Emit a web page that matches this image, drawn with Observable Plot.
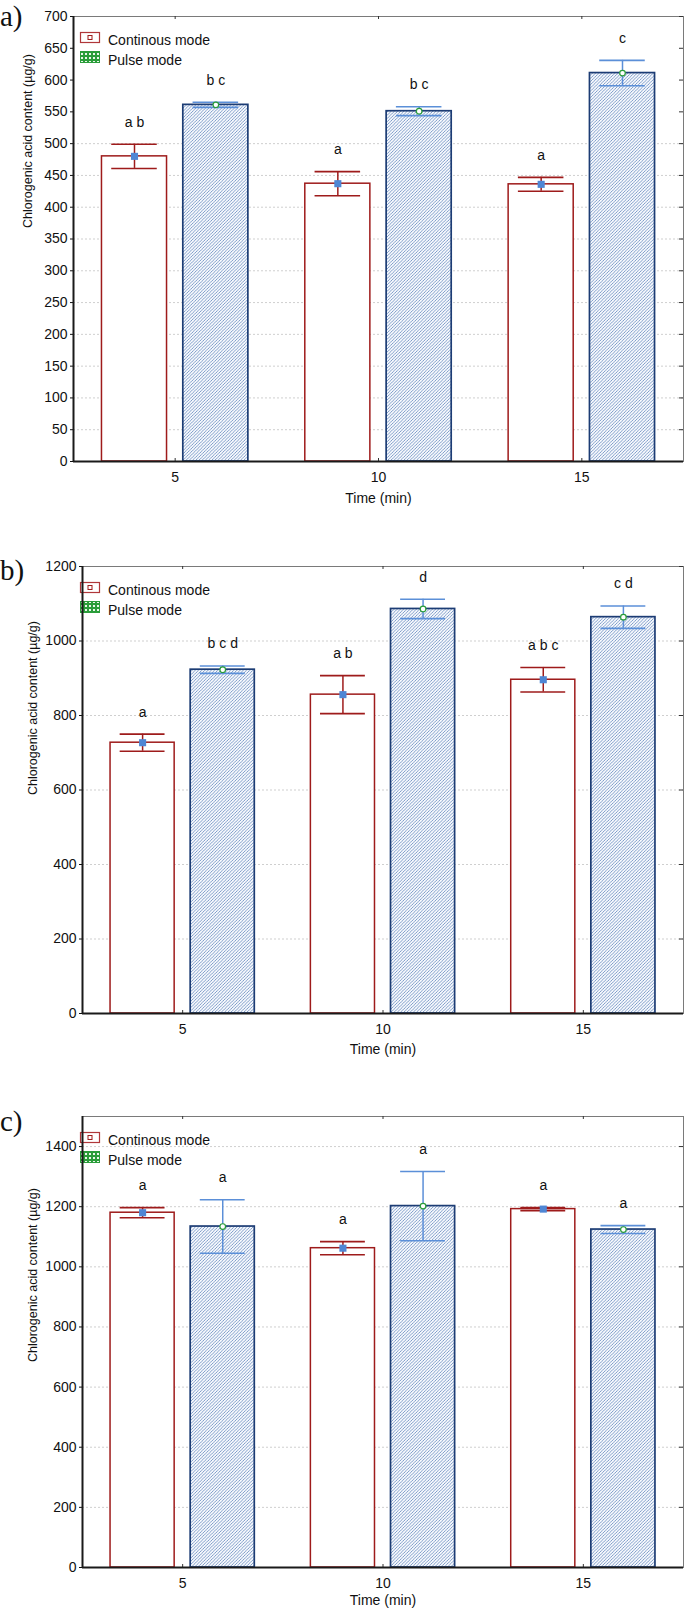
<!DOCTYPE html>
<html>
<head>
<meta charset="utf-8">
<script src="https://cdn.jsdelivr.net/npm/d3@7"></script>
<script src="https://cdn.jsdelivr.net/npm/@observablehq/plot@0.6"></script>
<style>
  body { margin: 0; background: #fff; }
  #chart { position: relative; width: 685px; height: 1613px; background: #fff; }
  .panel { position: absolute; left: 0; }
  .panel svg { display: block; overflow: visible; }
</style>
</head>
<body>
<div id="chart"></div>
<script>
// ---------- data ----------
const times = [5, 10, 15];
const seriesNames = ["Continous mode", "Pulse mode"];
const yLabel = "Chlorogenic acid content (µg/g)";
const xLabel = "Time (min)";
const panelTags = ["a)", "b)", "c)"];

// panel a
const aContMean = [480, 437, 436];
const aContSD = [19, 19, 11];
const aPulseMean = [561, 551, 611];
const aPulseSD = [4, 7, 20];
const aContLetters = ["a b", "a", "a"];
const aPulseLetters = ["b c", "b c", "c"];
const aTicks = [0, 50, 100, 150, 200, 250, 300, 350, 400, 450, 500, 550, 600, 650, 700];
const aGrid = [50, 100, 150, 200, 250, 300, 350, 400, 450, 500];

// panel b
const bContMean = [727, 856, 896];
const bContSD = [23, 51, 33];
const bPulseMean = [923, 1086, 1064];
const bPulseSD = [10, 26, 30];
const bContLetters = ["a", "a b", "a b c"];
const bPulseLetters = ["b c d", "d", "c d"];
const bTicks = [0, 200, 400, 600, 800, 1000, 1200];
const bGrid = [200, 400, 600, 800, 1000];

// panel c
const cContMean = [1180, 1062, 1192];
const cContSD = [17, 22, 5];
const cPulseMean = [1134, 1202, 1124];
const cPulseSD = [89, 115, 13];
const cContLetters = ["a", "a", "a"];
const cPulseLetters = ["a", "a", "a"];
const cTicks = [0, 200, 400, 600, 800, 1000, 1200, 1400];
const cGrid = [200, 400, 600, 800, 1000, 1200, 1400];

// ---------- drawing ----------
const W = 685;
const RED = "#9e1b1b";
const NAVY = "#1c3c74";
const LIGHTBLUE = "#5b8fd8";
const SQUARE = "#4f86d4";
const GREEN = "#2a9d3a";
const FONT = "'Liberation Sans', Arial, Helvetica, sans-serif";

function panel(o) {
  const rows = [];
  times.forEach((t, i) => {
    rows.push({time: t, mode: seriesNames[0], mean: o.contMean[i], sd: o.contSD[i], letter: o.contLetters[i]});
    rows.push({time: t, mode: seriesNames[1], mean: o.pulseMean[i], sd: o.pulseSD[i], letter: o.pulseLetters[i]});
  });
  const cont = rows.filter(d => d.mode === seriesNames[0]);
  const pulse = rows.filter(d => d.mode === seriesNames[1]);
  const cx = d => d.time + (d.mode === seriesNames[0] ? -1 : 1);
  const half = 0.8, cap = 0.56;
  const mr = 2;
  const frameH = o.height - o.mt - o.mb;
  const frameW = W - o.ml - mr;
  const hatchId = "hatch-" + o.key;
  const checkId = "check-" + o.key;

  const decor = () => {
    const g = d3.create("svg:g").attr("text-anchor", "start");
    const defs = g.append("defs");
    const hp = defs.append("pattern").attr("id", hatchId)
      .attr("patternUnits", "userSpaceOnUse").attr("width", 3.2).attr("height", 3.2);
    hp.append("rect").attr("width", 3.2).attr("height", 3.2).attr("fill", "#f7f9fd");
    hp.append("path").attr("d", "M-0.8,0.8 L0.8,-0.8 M0,3.2 L3.2,0 M2.4,4 L4,2.4")
      .attr("stroke", "#5a7fb9").attr("stroke-width", 0.75);
    const cp = defs.append("pattern").attr("id", checkId)
      .attr("patternUnits", "userSpaceOnUse").attr("width", 4).attr("height", 4);
    cp.append("rect").attr("width", 4).attr("height", 4).attr("fill", GREEN);
    cp.append("rect").attr("x", 1).attr("y", 1).attr("width", 2).attr("height", 2).attr("fill", "#eaf6ea");
    // panel tag
    g.append("text").attr("x", 0).attr("y", o.mt + o.tagDy).attr("text-anchor", "start")
      .attr("font-family", "'Liberation Serif', 'Times New Roman', serif")
      .attr("font-size", 29).attr("fill", "#111").text(o.tag);
    // legend
    const lt = o.mt;
    g.append("rect").attr("x", 80.5).attr("y", lt + 16.5).attr("width", 19).attr("height", 10)
      .attr("fill", "white").attr("stroke", "#b0373a").attr("stroke-width", 1.2);
    g.append("rect").attr("x", 88).attr("y", lt + 19.5).attr("width", 4).attr("height", 4)
      .attr("fill", "white").attr("stroke", RED).attr("stroke-width", 1);
    g.append("rect").attr("x", 80.5).attr("y", lt + 35.5).attr("width", 19).attr("height", 11)
      .attr("fill", `url(#${checkId})`).attr("stroke", GREEN).attr("stroke-width", 1);
    g.append("text").attr("x", 108).attr("y", lt + 29).attr("text-anchor", "start").attr("font-family", FONT)
      .attr("font-size", 14).attr("fill", "#111").text(seriesNames[0]);
    g.append("text").attr("x", 108).attr("y", lt + 49).attr("text-anchor", "start").attr("font-family", FONT)
      .attr("font-size", 14).attr("fill", "#111").text(seriesNames[1]);
    return g.node();
  };

  const errMarks = (data, color) => [
    Plot.ruleX(data, {x: cx, y1: d => d.mean - d.sd, y2: d => d.mean + d.sd, stroke: color, strokeWidth: 1.5}),
    Plot.ruleY(data, {x1: d => cx(d) - cap, x2: d => cx(d) + cap, y: d => d.mean + d.sd, stroke: color, strokeWidth: 1.6}),
    Plot.ruleY(data, {x1: d => cx(d) - cap, x2: d => cx(d) + cap, y: d => d.mean - d.sd, stroke: color, strokeWidth: 1.6})
  ];

  return Plot.plot({
    width: W,
    height: o.height,
    marginTop: o.mt,
    marginBottom: o.mb,
    marginLeft: o.ml,
    marginRight: mr,
    style: {fontFamily: FONT, fontSize: "14px", color: "#111", background: "white", overflow: "visible"},
    x: {domain: [2.5, 17.5], ticks: times, tickSize: 0, tickPadding: 11, tickFormat: d => `${d}`, label: null},
    y: {domain: o.yDomain, ticks: o.yTicks, tickSize: 3, tickPadding: 3, tickFormat: d => `${d}`, label: null},
    marks: [
      Plot.ruleY(o.grid, {stroke: "#cfcfcf", strokeWidth: 1, strokeDasharray: "2,2"}),
      Plot.rect(cont, {x1: d => cx(d) - half, x2: d => cx(d) + half, y1: 0, y2: "mean",
        fill: "white", stroke: RED, strokeWidth: 1.5}),
      decor,
      Plot.rect(pulse, {x1: d => cx(d) - half, x2: d => cx(d) + half, y1: 0, y2: "mean",
        fill: `url(#${hatchId})`, stroke: NAVY, strokeWidth: 1.7}),
      ...errMarks(cont, RED),
      ...errMarks(pulse, LIGHTBLUE),
      Plot.dot(cont, {x: cx, y: "mean", symbol: "square", r: 4, fill: SQUARE}),
      Plot.dot(pulse, {x: cx, y: "mean", r: 2.8, fill: "white", stroke: GREEN, strokeWidth: 1.2}),
      Plot.text(rows, {x: cx, y: d => d.mean + d.sd, text: "letter", dy: -22, fontSize: 14, fill: "#111"}),
      Plot.frame({stroke: "#7a7a7a", strokeWidth: 1}),
      Plot.ruleX(times, {x: d => d, insetBottom: frameH - 3, stroke: "#333"}),
      Plot.ruleX(times, {x: d => d, insetTop: frameH - 3, stroke: "#333"}),
      Plot.ruleY(o.yTicks, {y: d => d, insetLeft: frameW - 4, stroke: "#333"}),
      Plot.ruleX([2.5], {stroke: "#1a1a1a", strokeWidth: 2}),
      Plot.ruleY([0], {stroke: "#1a1a1a", strokeWidth: 2}),
      Plot.text([xLabel], {text: d => d, frameAnchor: "bottom", dy: o.xLabelDy, fontSize: 14, fill: "#111"}),
      Plot.text([yLabel], {text: d => d, frameAnchor: "left", rotate: -90, dx: o.yLabelX - o.ml,
        dy: o.yLabelDy, fontSize: 12.5, fill: "#111"})
    ]
  });
}

const specs = [
  {key: "a", tag: panelTags[0], top: 0, height: 520, mt: 16, mb: 59, ml: 73, yDomain: [0, 700],
   yTicks: aTicks, grid: aGrid, contMean: aContMean, contSD: aContSD, pulseMean: aPulseMean, pulseSD: aPulseSD,
   contLetters: aContLetters, pulseLetters: aPulseLetters, xLabelDy: 41, yLabelX: 27, yLabelDy: -11, tagDy: 10},
  {key: "b", tag: panelTags[1], top: 520, height: 560, mt: 46, mb: 67, ml: 82, yDomain: [0, 1200],
   yTicks: bTicks, grid: bGrid, contMean: bContMean, contSD: bContSD, pulseMean: bPulseMean, pulseSD: bPulseSD,
   contLetters: bContLetters, pulseLetters: bPulseLetters, xLabelDy: 40, yLabelX: 32, yLabelDy: 5, tagDy: 14},
  {key: "c", tag: panelTags[2], top: 1080, height: 533, mt: 36, mb: 46, ml: 82, yDomain: [0, 1500],
   yTicks: cTicks, grid: cGrid, contMean: cContMean, contSD: cContSD, pulseMean: cPulseMean, pulseSD: cPulseSD,
   contLetters: cContLetters, pulseLetters: cPulseLetters, xLabelDy: 37, yLabelX: 32, yLabelDy: 20, tagDy: 15}
];

const chart = document.getElementById("chart");
for (const s of specs) {
  const div = document.createElement("div");
  div.className = "panel";
  div.style.top = s.top + "px";
  div.appendChild(panel(s));
  chart.appendChild(div);
}
</script>
</body>
</html>
